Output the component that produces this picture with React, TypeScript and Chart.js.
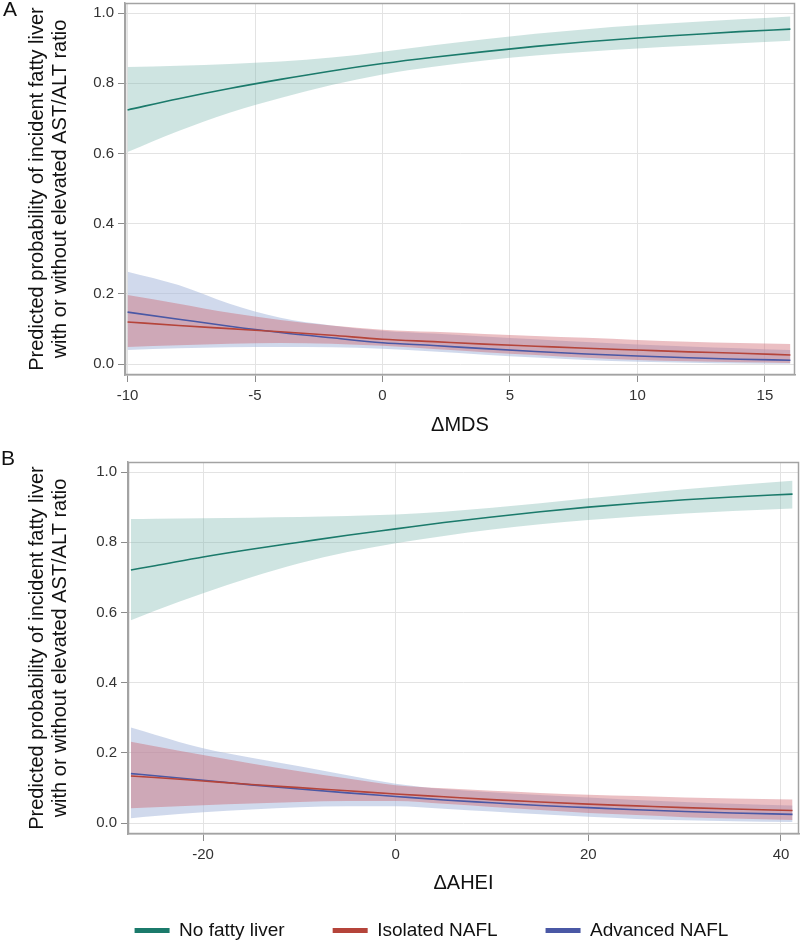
import React, { useEffect, useRef } from "react";
import { Chart, registerables } from "chart.js";

Chart.register(...registerables);

// ---------- text ----------
const seriesNames = ["No fatty liver", "Isolated NAFL", "Advanced NAFL"];
const yTitle = [
  "Predicted probability of incident fatty liver",
  "with or without elevated AST/ALT ratio",
];
const xTitleA = "\u0394MDS";
const xTitleB = "\u0394AHEI";

// ---------- tick labels ----------
const yTicks = [0, 0.2, 0.4, 0.6, 0.8, 1.0];
const xTicksA = [-10, -5, 0, 5, 10, 15];
const xTicksB = [-20, 0, 20, 40];

// ---------- panel A (ΔMDS) ----------
const xA = [-10, -8, -6, -4, -2, 0, 2, 4, 6, 8, 10, 12, 14, 16];
const noFatA = [0.724, 0.756, 0.785, 0.811, 0.835, 0.856, 0.874, 0.89, 0.905, 0.918, 0.929, 0.938, 0.947, 0.954];
const noFatUpA = [0.846, 0.85, 0.855, 0.862, 0.873, 0.89, 0.908, 0.925, 0.941, 0.954, 0.965, 0.974, 0.982, 0.99];
const noFatLoA = [0.604, 0.664, 0.716, 0.758, 0.795, 0.825, 0.847, 0.865, 0.879, 0.89, 0.899, 0.907, 0.914, 0.921];
const isoA = [0.12, 0.11, 0.101, 0.092, 0.082, 0.071, 0.064, 0.057, 0.051, 0.045, 0.04, 0.035, 0.031, 0.026];
const isoUpA = [0.197, 0.172, 0.146, 0.126, 0.11, 0.098, 0.092, 0.086, 0.08, 0.075, 0.069, 0.064, 0.06, 0.057];
const isoLoA = [0.049, 0.054, 0.058, 0.06, 0.058, 0.052, 0.043, 0.034, 0.026, 0.018, 0.012, 0.008, 0.005, 0.003];
const advA = [0.148, 0.128, 0.108, 0.09, 0.075, 0.061, 0.053, 0.044, 0.036, 0.029, 0.023, 0.018, 0.014, 0.011];
const advUpA = [0.263, 0.225, 0.172, 0.132, 0.11, 0.095, 0.087, 0.079, 0.071, 0.063, 0.056, 0.05, 0.045, 0.04];
const advLoA = [0.04, 0.045, 0.048, 0.049, 0.048, 0.044, 0.036, 0.027, 0.019, 0.012, 0.007, 0.004, 0.002, 0.001];

// ---------- panel B (ΔAHEI) ----------
const xB = [-27.5, -25, -20, -15, -10, -5, 0, 5, 10, 15, 20, 25, 30, 35, 41.2];
const noFatB = [0.721, 0.733, 0.758, 0.78, 0.8, 0.82, 0.838, 0.856, 0.872, 0.887, 0.9, 0.911, 0.921, 0.929, 0.937];
const noFatUpB = [0.866, 0.867, 0.868, 0.87, 0.872, 0.875, 0.879, 0.887, 0.898, 0.911, 0.925, 0.938, 0.951, 0.962, 0.975];
const noFatLoB = [0.578, 0.605, 0.655, 0.7, 0.74, 0.772, 0.797, 0.818, 0.836, 0.851, 0.863, 0.873, 0.882, 0.889, 0.896];
const isoB = [0.134, 0.13, 0.12, 0.11, 0.101, 0.092, 0.083, 0.075, 0.067, 0.06, 0.054, 0.049, 0.044, 0.04, 0.036];
const isoUpB = [0.232, 0.219, 0.194, 0.17, 0.148, 0.127, 0.108, 0.099, 0.092, 0.086, 0.081, 0.077, 0.073, 0.07, 0.067];
const isoLoB = [0.042, 0.045, 0.051, 0.056, 0.06, 0.063, 0.063, 0.055, 0.046, 0.037, 0.029, 0.023, 0.017, 0.013, 0.009];
const advB = [0.141, 0.135, 0.122, 0.109, 0.097, 0.086, 0.076, 0.066, 0.058, 0.05, 0.044, 0.038, 0.033, 0.029, 0.025];
const advUpB = [0.272, 0.252, 0.213, 0.186, 0.162, 0.136, 0.112, 0.097, 0.088, 0.08, 0.073, 0.066, 0.06, 0.055, 0.05];
const advLoB = [0.014, 0.02, 0.031, 0.039, 0.045, 0.048, 0.048, 0.041, 0.033, 0.025, 0.018, 0.012, 0.008, 0.005, 0.003];

// ---------- styles ----------
const FONT = "'Liberation Sans', Arial, Helvetica, sans-serif";
const TEAL = "#1b7a6b";
const RED = "#b5443a";
const BLUE = "#4a58a5";
const TEAL_BAND = "rgba(120,180,172,0.36)";
const RED_BAND = "rgba(205,95,105,0.4)";
const BLUE_BAND = "rgba(170,185,220,0.55)";
const GRID = "#e3e3e3";
const FRAME = "#a3a3a3";
const TICK_TEXT = "#333";
const TITLE_TEXT = "#111";

const pts = (xs: number[], ys: number[]) => xs.map((x, i) => ({ x, y: ys[i] }));

const framePlugin = {
  id: "frame",
  afterDatasetsDraw(chart: any) {
    const { ctx, chartArea } = chart;
    const l = Math.round(chartArea.left) + 0.5;
    const t = Math.round(chartArea.top) + 0.5;
    const r = Math.round(chartArea.right) - 0.5;
    const b = Math.round(chartArea.bottom) - 0.5;
    ctx.save();
    ctx.strokeStyle = FRAME;
    ctx.lineWidth = 1.5;
    ctx.strokeRect(l, t, r - l, b - t);
    ctx.restore();
  },
};

const letterPlugin = (letter: string, x: number, y: number) => ({
  id: "letter" + letter,
  afterDraw(chart: any) {
    const ctx = chart.ctx;
    ctx.save();
    ctx.font = `21px ${FONT}`;
    ctx.fillStyle = TITLE_TEXT;
    ctx.textBaseline = "alphabetic";
    ctx.textAlign = "left";
    ctx.fillText(letter, x, y);
    ctx.restore();
  },
});

interface Panel {
  x: number[];
  noFat: number[]; noFatUp: number[]; noFatLo: number[];
  iso: number[]; isoUp: number[]; isoLo: number[];
  adv: number[]; advUp: number[]; advLo: number[];
  xMin: number; xMax: number; xTicks: number[]; xTitle: string;
  padding: { left: number; top: number; right: number; bottom: number };
  yAxisWidth: number; yTitlePad: number;
  xAxisHeight: number; xTitlePad: number;
  legend: boolean;
  letter: string; letterX: number; letterY: number;
}

function lineDs(label: string, xs: number[], ys: number[], color: string) {
  return {
    label,
    data: pts(xs, ys),
    borderColor: color,
    backgroundColor: color,
    borderWidth: 1.6,
    pointRadius: 0,
    fill: false,
    cubicInterpolationMode: "monotone",
    order: 0,
  };
}

function bandDs(label: string, xs: number[], up: number[], lo: number[], color: string, order: number) {
  return [
    {
      label: label + " upper",
      data: pts(xs, up),
      borderColor: "rgba(0,0,0,0)",
      backgroundColor: color,
      borderWidth: 0,
      pointRadius: 0,
      fill: "+1",
      cubicInterpolationMode: "monotone",
      order,
    },
    {
      label: label + " lower",
      data: pts(xs, lo),
      borderColor: "rgba(0,0,0,0)",
      backgroundColor: "rgba(0,0,0,0)",
      borderWidth: 0,
      pointRadius: 0,
      fill: false,
      cubicInterpolationMode: "monotone",
      order,
    },
  ];
}

function buildConfig(p: Panel): any {
  const datasets = [
    lineDs(seriesNames[0], p.x, p.noFat, TEAL),
    lineDs(seriesNames[1], p.x, p.iso, RED),
    lineDs(seriesNames[2], p.x, p.adv, BLUE),
    ...bandDs(seriesNames[0], p.x, p.noFatUp, p.noFatLo, TEAL_BAND, 3),
    ...bandDs(seriesNames[2], p.x, p.advUp, p.advLo, BLUE_BAND, 3),
    ...bandDs(seriesNames[1], p.x, p.isoUp, p.isoLo, RED_BAND, 2),
  ];
  return {
    type: "line",
    data: { datasets },
    options: {
      responsive: false,
      animation: false,
      events: [],
      layout: { padding: p.padding },
      plugins: {
        tooltip: { enabled: false },
        legend: {
          display: p.legend,
          position: "bottom",
          align: "center",
          labels: {
            boxWidth: 35,
            boxHeight: 5,
            padding: 48,
            color: TITLE_TEXT,
            font: { size: 19, family: FONT },
            generateLabels: (chart: any) =>
              chart.data.datasets.slice(0, 3).map((ds: any, i: number) => ({
                text: ds.label,
                fillStyle: ds.borderColor,
                strokeStyle: ds.borderColor,
                lineWidth: 0,
                hidden: false,
                datasetIndex: i,
                fontColor: TITLE_TEXT,
              })),
          },
        },
      },
      scales: {
        x: {
          type: "linear",
          min: p.xMin,
          max: p.xMax,
          afterBuildTicks: (s: any) => {
            s.ticks = p.xTicks.map((v) => ({ value: v }));
          },
          afterFit: (s: any) => {
            s.height = p.xAxisHeight;
            s.paddingLeft = 0;
            s.paddingRight = 0;
          },
          grid: { color: GRID, tickColor: "#8c8c8c", tickLength: 7, lineWidth: 1 },
          border: { color: FRAME, width: 1.5 },
          ticks: {
            autoSkip: false,
            maxRotation: 0,
            color: TICK_TEXT,
            padding: 5,
            font: { size: 15, family: FONT },
            callback: (v: any) => String(v),
          },
          title: {
            display: true,
            text: p.xTitle,
            color: TITLE_TEXT,
            font: { size: 20, family: FONT, lineHeight: 1.2 },
            padding: { top: 0, bottom: p.xTitlePad },
          },
        },
        y: {
          type: "linear",
          min: -0.031,
          max: 1.0285,
          afterBuildTicks: (s: any) => {
            s.ticks = yTicks.map((v) => ({ value: v }));
          },
          afterFit: (s: any) => {
            s.width = p.yAxisWidth;
            s.paddingTop = 0;
            s.paddingBottom = 0;
          },
          grid: { color: GRID, tickColor: "#8c8c8c", tickLength: 7, lineWidth: 1 },
          border: { color: FRAME, width: 1.5 },
          ticks: {
            color: TICK_TEXT,
            padding: 4,
            font: { size: 15, family: FONT },
            callback: (v: any) => Number(v).toFixed(1),
          },
          title: {
            display: true,
            text: yTitle,
            color: TITLE_TEXT,
            font: { size: 20, family: FONT, lineHeight: 1.15 },
            padding: { top: p.yTitlePad, bottom: 0 },
          },
        },
      },
    },
    plugins: [framePlugin, letterPlugin(p.letter, p.letterX, p.letterY)],
  };
}

const panelA: Panel = {
  x: xA,
  noFat: noFatA, noFatUp: noFatUpA, noFatLo: noFatLoA,
  iso: isoA, isoUp: isoUpA, isoLo: isoLoA,
  adv: advA, advUp: advUpA, advLo: advLoA,
  xMin: -10.1, xMax: 16.18, xTicks: xTicksA, xTitle: xTitleA,
  padding: { left: 0, top: 3, right: 5, bottom: 0 },
  yAxisWidth: 125, yTitlePad: 25.5,
  xAxisHeight: 65, xTitlePad: 3,
  legend: false,
  letter: "A", letterX: 3, letterY: 16,
};

const panelB: Panel = {
  x: xB,
  noFat: noFatB, noFatUp: noFatUpB, noFatLo: noFatLoB,
  iso: isoB, isoUp: isoUpB, isoLo: isoLoB,
  adv: advB, advUp: advUpB, advLo: advLoB,
  xMin: -27.8, xMax: 41.87, xTicks: xTicksB, xTitle: xTitleB,
  padding: { left: 64, top: 22, right: 1, bottom: 0 },
  yAxisWidth: 64, yTitlePad: -38.5,
  xAxisHeight: 39, xTitlePad: -22,
  legend: true,
  letter: "B", letterX: 1, letterY: 25,
};

export default function App() {
  const refA = useRef<HTMLCanvasElement>(null);
  const refB = useRef<HTMLCanvasElement>(null);
  useEffect(() => {
    const a = new Chart(refA.current as HTMLCanvasElement, buildConfig(panelA));
    const b = new Chart(refB.current as HTMLCanvasElement, buildConfig(panelB));
    return () => {
      a.destroy();
      b.destroy();
    };
  }, []);
  return (
    <div style={{ position: "absolute", left: 0, top: 0, width: 800, height: 942, overflow: "hidden", background: "#fff" }}>
      <canvas ref={refA} width={800} height={440} style={{ position: "absolute", left: 0, top: 0, width: 800, height: 440 }} />
      <canvas ref={refB} width={800} height={510} style={{ position: "absolute", left: 0, top: 440, width: 800, height: 510 }} />
    </div>
  );
}
